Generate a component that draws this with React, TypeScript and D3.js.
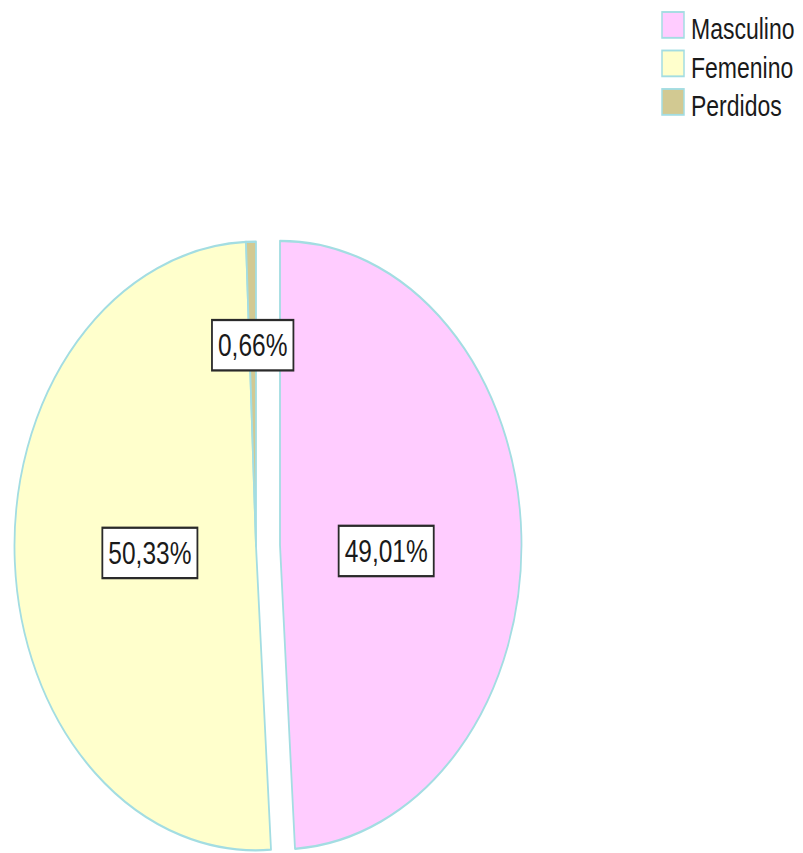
import React, { useEffect, useRef } from "react";
import * as d3 from "d3";

const categories = ["Masculino", "Femenino", "Perdidos"];
const percentages = [49.01, 50.33, 0.66];
const percentLabels = ["49,01%", "50,33%", "0,66%"];
const colors = ["#FFCCFF", "#FFFFCC", "#D2C992"];
const exploded = [true, false, false];
const labelRadiusFactor = [0.44, 0.44, 0.66];
const labelShiftY = [8, 0, 0];

const W = 803;
const H = 853;
const SY = 1.26; // vertical stretch of the whole picture

export default function App() {
  const ref = useRef<SVGSVGElement | null>(null);

  useEffect(() => {
    document.body.style.margin = "0";
    const svg = d3.select(ref.current);
    svg.selectAll("*").remove();
    const root = svg.append("g").attr("transform", `scale(1, ${SY})`);

    const cx = 256;
    const cy = 546 / SY;
    const r = 241.5;
    const explodeOffset = 24;
    const stroke = "#A3DDE2";

    const data = categories.map((c, i) => ({ name: c, value: percentages[i], i }));
    const pie = d3.pie<any>().sort(null).value((d: any) => d.value).startAngle(0).endAngle(2 * Math.PI);
    const arcs = pie(data);
    const arc = d3.arc<any>().innerRadius(0).outerRadius(r);

    const pieG = root.append("g").attr("transform", `translate(${cx},${cy})`);
    arcs.forEach((a: any) => {
      const mid = (a.startAngle + a.endAngle) / 2;
      const off = exploded[a.data.i] ? explodeOffset : 0;
      const dx = off * Math.sin(mid);
      const dy = -off * Math.cos(mid);
      pieG
        .append("path")
        .attr("d", arc(a) as string)
        .attr("transform", `translate(${dx},${dy})`)
        .attr("fill", colors[a.data.i])
        .attr("stroke", stroke)
        .attr("stroke-width", 1.8)
        .attr("stroke-linejoin", "round");
    });

    const fs = 24.5;
    arcs.forEach((a: any) => {
      const i = a.data.i;
      const mid = (a.startAngle + a.endAngle) / 2;
      const off = exploded[i] ? explodeOffset : 0;
      const lr = r * labelRadiusFactor[i] + off;
      const lx = lr * Math.sin(mid);
      const ly = -lr * Math.cos(mid) + labelShiftY[i];
      const g = pieG.append("g").attr("transform", `translate(${lx},${ly})`);
      const rect = g.append("rect");
      const t = g
        .append("text")
        .attr("x", 0)
        .attr("y", fs * 0.358)
        .attr("text-anchor", "middle")
        .attr("font-family", "'Liberation Sans', Arial, sans-serif")
        .attr("font-size", fs)
        .attr("fill", "#1a1a1a")
        .text(percentLabels[i]);
      const tw = (t.node() as SVGTextElement).getComputedTextLength();
      const bw = tw + 12;
      const bh = 40;
      rect
        .attr("x", -bw / 2)
        .attr("y", -bh / 2)
        .attr("width", bw)
        .attr("height", bh)
        .attr("fill", "#ffffff")
        .attr("stroke", "#2a2a2a")
        .attr("stroke-width", 1.8);
    });

    // legend
    const lg = root.append("g");
    const lx = 662;
    const ly0 = 12 / SY;
    const rowH = 38.5 / SY;
    categories.forEach((c, i) => {
      const y = ly0 + i * rowH;
      lg.append("rect")
        .attr("x", lx)
        .attr("y", y)
        .attr("width", 22)
        .attr("height", 20.5)
        .attr("fill", colors[i])
        .attr("stroke", stroke)
        .attr("stroke-width", 1.5);
      lg.append("text")
        .attr("x", lx + 29)
        .attr("y", y + 21.5)
        .attr("font-family", "'Liberation Sans', Arial, sans-serif")
        .attr("font-size", 23)
        .attr("fill", "#1a1a1a")
        .text(c);
    });
  }, []);

  return (
    <svg
      ref={ref}
      width={W}
      height={H}
      style={{ position: "absolute", left: 0, top: 0, background: "#fff" }}
    />
  );
}
